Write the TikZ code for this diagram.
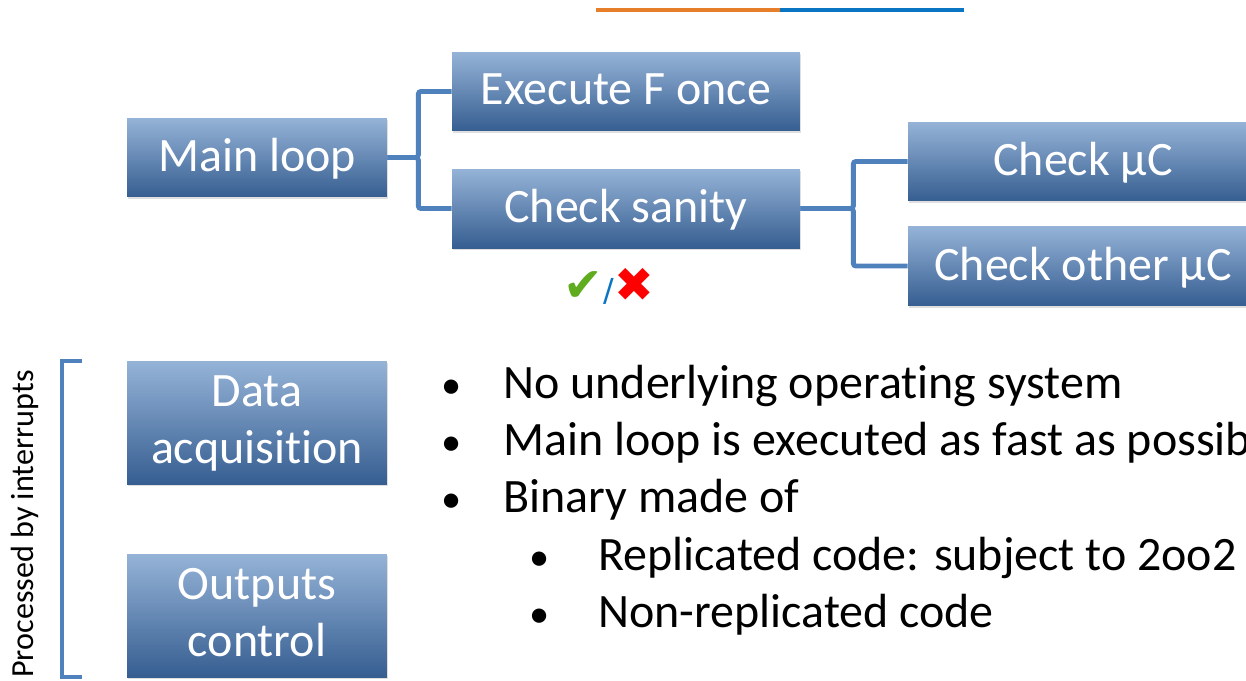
\documentclass[tikz,border=0pt]{standalone}
\usepackage{fontspec}
\setmainfont[Ligatures=CommonOff]{Carlito}
\newfontfamily\symfont{DejaVu Sans}
\usetikzlibrary{shadows}
\definecolor{boxtop}{HTML}{95B3D7}
\definecolor{boxmid}{HTML}{5385C2}
\definecolor{boxbot}{HTML}{365E91}
\definecolor{linkblue}{HTML}{4F81BD}
\definecolor{barorange}{HTML}{E67E2A}
\definecolor{barblue}{HTML}{0A75C2}
\definecolor{okgreen}{HTML}{5FAD1E}
\begin{document}
\begin{tikzpicture}[x=0.02cm,y=-0.02cm,
  every node/.style={font=\fontsize{27.3}{32.4}\selectfont},
  blockbox/.style={inner sep=0pt,text=white,align=center,text depth=3pt,top color=boxtop,middle color=boxmid,bottom color=boxbot,drop shadow={opacity=0.25,shadow xshift=0.6pt,shadow yshift=-1.2pt}},
  link/.style={draw=linkblue,line width=2.8pt,rounded corners=1.5pt},
  item/.style={anchor=base west,inner sep=0pt},
  dot/.style={anchor=base,inner sep=0pt,font=\fontsize{23}{24}\selectfont}]
\useasboundingbox (0,0) rectangle (1246,680);
\clip (0,0) rectangle (1246,680);
% title bar
\draw[barorange,line width=2.3pt] (596,10) -- (780,10);
\draw[barblue,line width=2.3pt] (780,10) -- (964,10);
% tree
\node[blockbox,minimum width=5.2cm,minimum height=1.58cm] (main) at (257,157.5) {Main loop};
\node[blockbox,minimum width=6.96cm,minimum height=1.58cm] (exec) at (626,91.5) {Execute F once};
\node[blockbox,minimum width=6.96cm,minimum height=1.58cm] (sanity) at (626,208.5) {Check sanity};
\node[blockbox,minimum width=7cm,minimum height=1.58cm] (ownuc) at (1083,161.5) {Check µC};
\node[blockbox,minimum width=7cm,minimum height=1.58cm] (otheruc) at (1083,266) {Check other µC};
\node[inner sep=0pt,font=\symfont\fontsize{27}{30}\selectfont] (verdict) at (609,286) {\textcolor{okgreen}{✔}\textcolor{barblue}{\fontsize{18}{20}\selectfont/}\textcolor{red}{✖}};
\foreach \target in {exec,sanity} \draw[link] (main.east) -- ++(31,0) |- (\target.west);
\foreach \target in {ownuc,otheruc} \draw[link] (sanity.east) -- ++(53,0) |- (\target.west);
% interrupt side
\node[blockbox,minimum width=5.2cm,minimum height=2.46cm] (acq) at (257,422.5) {Data\\acquisition};
\node[blockbox,minimum width=5.2cm,minimum height=2.46cm] (outs) at (257,615.5) {Outputs\\control};
\draw[linkblue,line width=2.6pt] (82,361) -- (62,361) -- (62,677) -- (82,677);
\node[rotate=90,inner sep=0pt,font=\fontsize{18.3}{20}\selectfont] (irq) at (25,524) {Processed by interrupts};
% bullet list
\node[dot] (b1) at (452,398) {•};
\node[item] (t1) at (503,398) {No underlying operating system};
\node[dot] (b2) at (452,455) {•};
\node[item] (t2) at (503,455) {Main loop is executed as fast as possible};
\node[dot] (b3) at (452,512) {•};
\node[item] (t3) at (503,512) {Binary made of};
\node[dot] (b4) at (540,570) {•};
\node[item] (t4) at (598,570) {Replicated code: subject to 2oo2};
\node[dot] (b5) at (540,627) {•};
\node[item] (t5) at (598,627) {Non-replicated code};
\end{tikzpicture}
\end{document}
